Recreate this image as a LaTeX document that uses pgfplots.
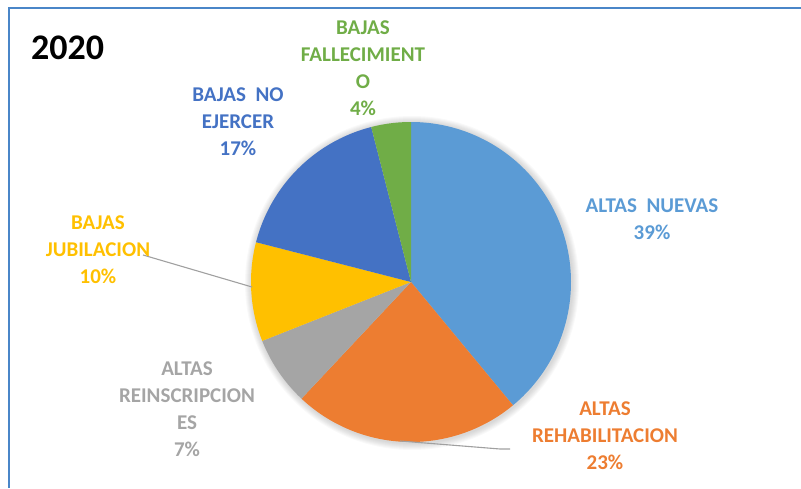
\documentclass[border=0pt]{standalone}
\usepackage{pgfplots}
\pgfplotsset{compat=1.18}
\usepackage{pgfplotstable}
\usepackage{fontspec}
\setmainfont{Carlito}
\definecolor{cNueva}{HTML}{5B9BD5}
\definecolor{cRehab}{HTML}{ED7D31}
\definecolor{cReins}{HTML}{A5A5A5}
\definecolor{cJubil}{HTML}{FFC000}
\definecolor{cEjer}{HTML}{4472C4}
\definecolor{cFall}{HTML}{70AD47}
\definecolor{cFrame}{HTML}{4A86C8}
\definecolor{cLead}{HTML}{A0A0A0}
\pgfplotstableread{
slice value
0 39
1 23
2 7
3 10
4 17
5 4
}\piedata
\newcommand\lbl{\fontsize{21}{27}\selectfont\bfseries}
\begin{document}
\begin{tikzpicture}
\def\cum{0}
\pgfplotsforeachungrouped \i in {0,...,5}{%
  \pgfplotstablegetelem{\i}{value}\of\piedata
  \pgfmathsetmacro\angbeg{90-3.6*\cum}%
  \pgfmathsetmacro\cum{\cum+\pgfplotsretval}%
  \pgfmathsetmacro\angend{90-3.6*\cum}%
  \expandafter\xdef\csname angS\i\endcsname{\angbeg}%
  \expandafter\xdef\csname angE\i\endcsname{\angend}%
}
\newcommand\slice[2]{%
  \edef\doslice{\noexpand\addplot[draw=none,fill=#2,domain=\csname angE#1\endcsname:\csname angS#1\endcsname,samples=90,variable=\noexpand\t] ({411+160*cos(\noexpand\t)},{206+160*sin(\noexpand\t)}) -- (axis cs:411,206) -- cycle;}%
  \doslice}
\begin{axis}[
  at={(0,0)}, anchor=south west,
  width=801pt, height=488pt, scale only axis,
  xmin=0, xmax=801, ymin=0, ymax=488,
  hide axis, clip=false,
]
% frame
\draw[cFrame, line width=1.6pt] (axis cs:9,0) -- (axis cs:9,480) -- (axis cs:801,480);
% shadow
\pgfplotsinvokeforeach{161,162,163,164,165,166,167}{
  \fill[black, opacity=0.025] (axis cs:412,205) circle[radius=#1pt];
}
\slice{0}{cNueva}
\slice{1}{cRehab}
\slice{2}{cReins}
\slice{3}{cJubil}
\slice{4}{cEjer}
\slice{5}{cFall}
% leader lines
\draw[cLead, line width=1.1pt] (axis cs:143,233) -- (axis cs:252,201);
\draw[cLead, line width=1.1pt] (axis cs:400,47) -- (axis cs:500,39) -- (axis cs:510,39);
% title
\node[anchor=west, font=\fontsize{36}{40}\selectfont\bfseries, inner sep=0pt] at (axis cs:31,440) {2020};
% labels
\node[font=\lbl, text=cNueva, align=center] at (axis cs:652,269) {ALTAS\ \ NUEVAS\\39\%};
\node[font=\lbl, text=cRehab, align=center] at (axis cs:605,52) {ALTAS\\REHABILITACION\\23\%};
\node[font=\lbl, text=cReins, align=center] at (axis cs:187,79) {ALTAS\\REINSCRIPCION\\ES\\7\%};
\node[font=\lbl, text=cJubil, align=center] at (axis cs:98,238) {BAJAS\\JUBILACION\\10\%};
\node[font=\lbl, text=cEjer, align=center] at (axis cs:238,366) {BAJAS\ \ NO\\EJERCER\\17\%};
\node[font=\lbl, text=cFall, align=center] at (axis cs:363,420) {BAJAS\\FALLECIMIENT\\O\\4\%};
\end{axis}
\pgfresetboundingbox
\path[use as bounding box] (0,0) rectangle (801pt,488pt);
\end{tikzpicture}
\end{document}
